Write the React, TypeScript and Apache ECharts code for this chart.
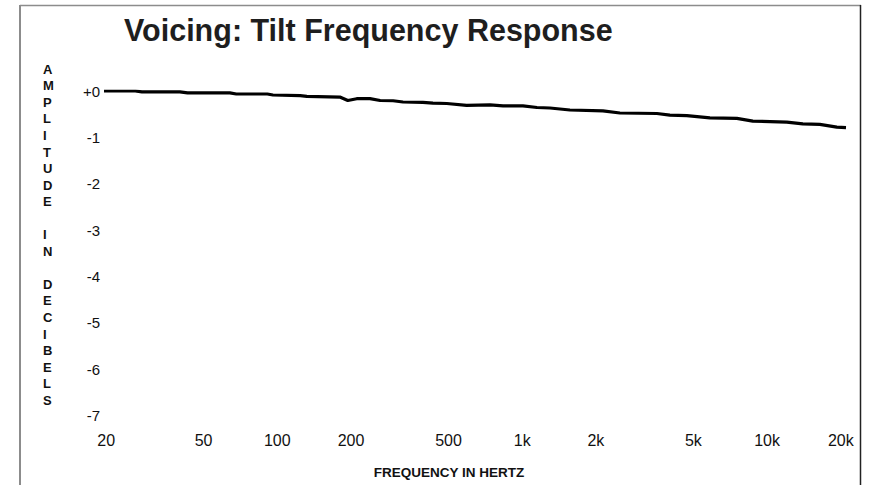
import React, { useEffect, useRef } from "react";
import * as echarts from "echarts";

// Frequency (Hz) and amplitude (dB)
const freqs = [
  19.6, 26.3, 28, 40, 43, 64, 68, 91, 96, 124, 132, 180, 194, 211, 239, 263, 297, 326,
  393, 432, 492, 593, 739, 835, 1007, 1149, 1298, 1566, 2136, 2506, 3548, 4009, 4704,
  5840, 7526, 8746, 12038, 13994, 16418, 19262, 21000,
];
const amps = [
  0, 0, -0.02, -0.02, -0.04, -0.04, -0.065, -0.065, -0.086, -0.1, -0.114, -0.13, -0.205,
  -0.166, -0.166, -0.205, -0.21, -0.237, -0.244, -0.26, -0.27, -0.31, -0.3, -0.32, -0.32,
  -0.356, -0.367, -0.41, -0.43, -0.475, -0.485, -0.52, -0.53, -0.58, -0.59, -0.65, -0.67,
  -0.71, -0.72, -0.78, -0.79,
];

const xTickValues = [20, 50, 100, 200, 500, 1000, 2000, 5000, 10000, 20000];
const xTickLabels = ["20", "50", "100", "200", "500", "1k", "2k", "5k", "10k", "20k"];

const yMin = -7;
const yMax = 0;

const titleText = "Voicing: Tilt Frequency Response";
const yAxisTitle = "AMPLITUDE IN DECIBELS";
const xAxisTitle = "FREQUENCY IN HERTZ";

const FONT = "'Liberation Sans', Arial, Helvetica, sans-serif";

export default function App() {
  const ref = useRef<HTMLDivElement>(null);

  useEffect(() => {
    if (!ref.current) return;
    const chart = echarts.init(ref.current, undefined, { renderer: "svg" });

    const data = freqs.map((f, i) => [Math.log10(f), amps[i]]);
    const tickLogs = xTickValues.map((v) => Math.log10(v));
    const labelFor = (v: number) => {
      let best = 0;
      let bd = Infinity;
      tickLogs.forEach((t, i) => {
        const d = Math.abs(t - v);
        if (d < bd) {
          bd = d;
          best = i;
        }
      });
      return xTickLabels[best];
    };

    // vertical stacked y-axis title (one letter per line, a blank line between words)
    const yTitleVertical = yAxisTitle.split("").join("\n");

    chart.setOption({
      animation: false,
      backgroundColor: "#ffffff",
      title: {
        text: titleText,
        left: 119,
        top: 9,
        textStyle: {
          fontFamily: FONT,
          fontSize: 30.5,
          fontWeight: "bold",
          color: "#1e1e1e",
        },
      },
      grid: {
        left: 104,
        right: 27,
        top: 91,
        height: 324.5,
        containLabel: false,
      },
      xAxis: {
        type: "value",
        min: Math.log10(19.6),
        max: Math.log10(21000),
        axisLine: { show: false },
        axisTick: { show: false },
        splitLine: { show: false },
        axisLabel: {
          customValues: tickLogs,
          formatter: (v: number) => labelFor(v),
          margin: 17,
          fontFamily: FONT,
          fontSize: 16,
          color: "#111",
          showMinLabel: true,
          showMaxLabel: true,
          hideOverlap: false,
        },
      },
      yAxis: {
        type: "value",
        min: yMin,
        max: yMax,
        interval: 1,
        axisLine: { show: false },
        axisTick: { show: false },
        splitLine: { show: false },
        axisLabel: {
          formatter: (v: number) => (v === 0 ? "+0" : String(v)),
          margin: 4,
          fontFamily: FONT,
          fontSize: 15,
          color: "#111",
        },
      },
      series: [
        {
          type: "line",
          data,
          showSymbol: false,
          symbol: "none",
          lineStyle: { color: "#000", width: 3.2 },
          silent: true,
        },
      ],
      graphic: [
        {
          type: "line",
          shape: { x1: 20, y1: 5.5, x2: 861, y2: 5.5 },
          style: { stroke: "#8c8c8c", lineWidth: 1.5 },
          silent: true,
        },
        {
          type: "line",
          shape: { x1: 20, y1: 5, x2: 20, y2: 485 },
          style: { stroke: "#8c8c8c", lineWidth: 2 },
          silent: true,
        },
        {
          type: "line",
          shape: { x1: 860.5, y1: 5, x2: 860.5, y2: 485 },
          style: { stroke: "#222", lineWidth: 1.5 },
          silent: true,
        },
        {
          type: "text",
          left: 43,
          top: 61,
          style: {
            text: yTitleVertical,
            fontFamily: FONT,
            fontSize: 13,
            fontWeight: "bold",
            lineHeight: 16.55,
            fill: "#111",
            align: "center",
            width: 14,
          },
          silent: true,
        },
        {
          type: "text",
          x: 449,
          y: 472,
          style: {
            text: xAxisTitle,
            fontFamily: FONT,
            fontSize: 13.5,
            fontWeight: "bold",
            fill: "#111",
            align: "center",
            verticalAlign: "middle",
          },
          silent: true,
        },
      ],
    });

    return () => chart.dispose();
  }, []);

  return (
    <div
      ref={ref}
      style={{ position: "fixed", left: 0, top: 0, width: 873, height: 485, background: "#fff" }}
    />
  );
}
